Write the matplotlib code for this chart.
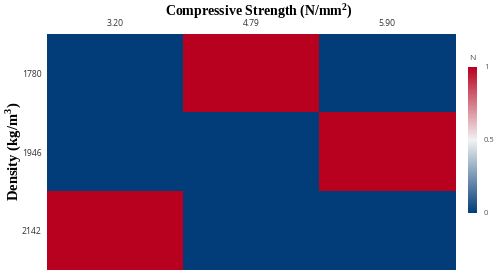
import numpy as np
import matplotlib.pyplot as plt
from matplotlib.colors import LinearSegmentedColormap

strength = ["3.20", "4.79", "5.90"]
density = ["1780", "1946", "2142"]
N = np.array([[0, 1, 0],
              [0, 0, 1],
              [1, 0, 0]])

cmap = LinearSegmentedColormap.from_list("bwr_custom", ["#023d7a", "#f2f2f2", "#b8001f"])

fig = plt.figure(figsize=(4.98, 2.75), dpi=100)
ax = fig.add_axes([0.0944, 0.018, 0.8193, 0.8584])
im = ax.imshow(N, cmap=cmap, vmin=0, vmax=1, aspect="auto", interpolation="nearest")

ax.set_xticks(range(len(strength)))
ax.set_xticklabels(strength, fontsize=6.2, fontfamily="Open Sans")
ax.set_yticks(range(len(density)))
ax.set_yticklabels(density, fontsize=6.2, fontfamily="Open Sans")
ax.xaxis.tick_top()
ax.tick_params(length=0, pad=4, colors="#333333")
for s in ax.spines.values():
    s.set_visible(False)

fig.text(0.52, 0.962, "Compressive Strength (N/mm$^\\mathregular{2}$)", ha="center", va="center",
         fontsize=10, fontweight="bold", fontfamily="Liberation Serif")
fig.text(0.026, 0.45, "Density (kg/m$^\\mathregular{3}$)", ha="center", va="center", rotation=90,
         fontsize=10.5, fontweight="bold", fontfamily="Liberation Serif")

cax = fig.add_axes([0.9398, 0.2255, 0.018, 0.531])
cb = fig.colorbar(im, cax=cax, ticks=[0, 0.5, 1])
cb.outline.set_visible(False)
cb.ax.set_yticklabels(["0", "0.5", "1"], fontsize=5.5, fontfamily="Open Sans", color="#555555")
cb.ax.tick_params(length=0, pad=5)
cax.set_title("N", fontsize=6, fontfamily="Open Sans", color="#555555", pad=5)

fig.savefig("out.png", dpi=100)
